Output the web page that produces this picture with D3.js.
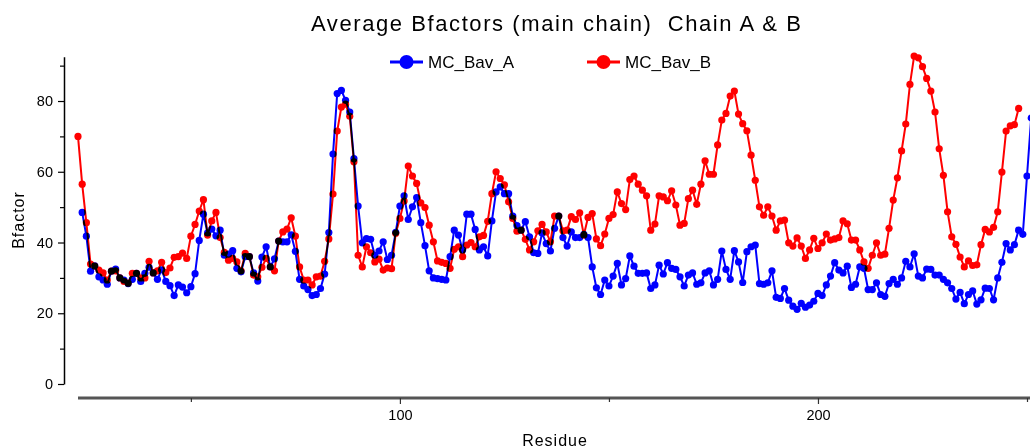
<!DOCTYPE html>
<html>
<head>
<meta charset="utf-8">
<script src="https://cdn.jsdelivr.net/npm/d3@7"></script>
<style>
  html, body { margin: 0; padding: 0; background: #fff; }
  svg { display: block; font-family: "Liberation Sans", Arial, sans-serif; }
</style>
</head>
<body>
<svg id="chart" width="1030" height="448"></svg>
<script>
// Residue numbering of each chain
const firstResA = 24;
const firstResB = 23;

// Main chain average B-factors, chain A (residues 24..251)
const bavA = [
  48.5, 41.8, 31.9, 33.4, 30.3, 29.4, 28.2, 31.9, 32.5, 30.0,
  29.4, 28.4, 29.6, 31.3, 29.0, 31.3, 33.0, 31.4, 29.6, 32.3,
  29.0, 27.8, 25.0, 28.0, 27.4, 25.8, 27.5, 31.2, 40.6, 48.0,
  42.7, 43.8, 41.9, 43.5, 36.4, 36.7, 37.7, 32.7, 31.7, 36.0,
  36.0, 31.4, 29.1, 35.9, 38.8, 33.1, 35.4, 40.4, 40.2, 40.2,
  42.2, 37.5, 29.6, 27.7, 26.7, 25.0, 25.3, 27.0, 31.1, 42.8,
  65.0, 82.1, 83.0, 80.2, 76.9, 63.7, 50.3, 39.9, 41.1, 40.9,
  36.4, 37.6, 40.2, 35.2, 36.4, 42.9, 50.3, 53.2, 46.5, 50.1,
  52.7, 45.6, 39.1, 32.0, 30.0, 29.8, 29.6, 29.4, 36.0, 43.5,
  42.1, 37.9, 48.0, 48.0, 43.7, 37.9, 38.8, 36.2, 46.1, 54.3,
  55.7, 53.8, 53.8, 47.5, 44.8, 43.5, 45.9, 41.6, 37.1, 36.9,
  42.7, 39.7, 37.6, 44.0, 47.5, 41.4, 39.0, 43.0, 41.4, 41.4,
  42.3, 41.4, 33.1, 27.2, 25.3, 29.4, 27.7, 30.5, 34.1, 28.0,
  29.8, 36.2, 33.3, 31.3, 31.3, 31.4, 27.0, 28.0, 33.6, 31.1,
  34.3, 32.7, 32.4, 30.3, 27.7, 30.8, 31.4, 28.2, 28.6, 31.4,
  32.0, 28.0, 29.6, 37.6, 32.4, 29.6, 37.7, 34.5, 28.7, 37.4,
  38.8, 39.3, 28.4, 28.2, 28.6, 32.0, 24.5, 24.2, 27.0, 23.7,
  22.0, 21.1, 22.8, 21.7, 22.3, 23.4, 25.6, 25.0, 28.0, 30.5,
  34.3, 32.2, 31.4, 33.3, 27.3, 28.2, 33.1, 32.7, 26.7, 26.7,
  28.6, 25.3, 24.8, 28.4, 29.6, 28.2, 30.0, 34.7, 33.1, 36.8,
  30.5, 30.0, 32.5, 32.4, 30.8, 30.8, 29.6, 28.6, 27.0, 24.0,
  25.9, 22.7, 25.3, 26.3, 22.6, 23.8, 27.1, 27.0, 23.8, 30.0,
  34.4, 39.7, 37.9, 39.4, 43.5, 42.3, 58.8, 75.2
];

// Main chain average B-factors, chain B (residues 23..248)
const bavB = [
  70.0, 56.5, 45.6, 33.9, 33.3, 32.2, 31.4, 29.4, 31.9, 32.0,
  30.0, 29.0, 28.5, 31.3, 31.3, 30.0, 30.0, 34.7, 31.4, 32.0,
  34.4, 31.5, 32.8, 35.8, 36.0, 37.0, 35.5, 41.8, 45.1, 48.9,
  52.1, 42.1, 46.1, 48.5, 41.4, 37.2, 35.0, 35.5, 34.5, 32.0,
  36.9, 36.0, 30.8, 30.3, 33.0, 35.5, 33.1, 32.0, 40.4, 43.0,
  43.8, 47.0, 41.8, 33.1, 29.4, 29.4, 28.0, 30.3, 30.5, 34.7,
  41.0, 53.7, 71.5, 78.3, 79.1, 75.7, 62.8, 36.4, 33.1, 38.8,
  37.1, 34.5, 35.3, 32.2, 32.8, 32.6, 42.6, 46.8, 51.7, 61.6,
  58.8, 56.7, 51.2, 49.9, 44.9, 40.2, 34.8, 34.4, 34.1, 32.7,
  38.1, 38.8, 36.0, 39.3, 40.0, 38.8, 41.6, 42.0, 46.0, 53.8,
  60.0, 58.1, 56.3, 51.5, 46.8, 43.2, 43.5, 40.9, 37.9, 40.2,
  43.3, 45.1, 43.0, 40.2, 47.5, 47.5, 43.3, 43.5, 47.3, 46.5,
  48.4, 42.1, 47.1, 48.2, 41.0, 39.1, 42.4, 46.8, 47.9, 54.3,
  51.0, 49.3, 57.8, 58.8, 56.5, 54.8, 53.2, 43.5, 45.2, 53.2,
  52.9, 51.8, 54.6, 50.6, 44.9, 45.4, 52.4, 54.8, 50.8, 56.5,
  63.1, 59.3, 59.3, 67.6, 74.6, 76.5, 81.4, 82.8, 76.3, 73.6,
  71.6, 64.7, 57.6, 50.1, 47.7, 50.1, 47.5, 43.5, 46.1, 46.3,
  39.9, 39.0, 41.3, 39.0, 35.5, 37.9, 41.2, 38.3, 39.9, 42.4,
  40.7, 41.0, 41.4, 46.1, 45.3, 40.7, 40.7, 37.9, 34.5, 32.7,
  36.4, 39.9, 36.4, 36.7, 44.0, 52.0, 58.3, 65.9, 73.5, 84.7,
  92.7, 92.2, 89.7, 86.4, 82.8, 76.9, 66.5, 59.0, 48.7, 41.6,
  39.5, 35.9, 33.1, 34.8, 33.5, 33.7, 39.4, 43.7, 43.0, 44.3,
  48.7, 59.9, 71.5, 73.0, 73.3, 77.9
];

const seriesNames = ["MC_Bav_A", "MC_Bav_B"];
const yMajorTicks = [0, 20, 40, 60, 80];
const yMinorTicks = [10, 30, 50, 70, 90];
const xMajorTicks = [100, 200];
const xMinorTicks = [50, 150, 250];

const width = 1030;
const height = 448;
const svg = d3.select("#chart");

const series = [
  { name: seriesNames[0], color: "#0000ff", data: bavA.map((v, i) => ({ res: firstResA + i, val: v })) },
  { name: seriesNames[1], color: "#ff0000", data: bavB.map((v, i) => ({ res: firstResB + i, val: v })) },
];

// Scales
const xScale = d3.scaleLinear().domain([23, 250]).range([78, 1027]);
const yScale = d3.scaleLinear().domain([0, 92.5]).range([384, 56.8]);

// Title (keep the double space)
svg
  .append("text")
  .attr("x", 556)
  .attr("y", 31)
  .attr("xml:space", "preserve")
  .attr("text-anchor", "middle")
  .attr("textLength", 490)
  .attr("lengthAdjust", "spacing")
  .style("white-space", "pre")
  .style("font-size", "22px")
  .style("fill", "#000")
  .text("Average Bfactors (main chain)  Chain A & B");

// Y axis (major + minor ticks)
const yAxisG = svg.append("g").attr("transform", "translate(64,0)");
yAxisG
  .append("g")
  .call(d3.axisLeft(yScale).tickValues(yMajorTicks).tickSize(6).tickSizeOuter(0).tickPadding(5))
  .call((g) => g.selectAll("text").style("font-size", "14.5px").style("fill", "#000"))
  .call((g) => g.select(".domain").attr("stroke", "#000").attr("stroke-width", 1.5));
yAxisG
  .append("g")
  .call(d3.axisLeft(yScale).tickValues(yMinorTicks).tickSize(4).tickFormat(""))
  .call((g) => g.select(".domain").remove());
yAxisG.selectAll("line").attr("stroke", "#000").attr("stroke-width", 1.2);

// Y label
svg
  .append("text")
  .attr("transform", "rotate(-90)")
  .attr("x", -220)
  .attr("y", 24)
  .attr("text-anchor", "middle")
  .style("font-size", "16px")
  .style("letter-spacing", "1px")
  .text("Bfactor");

// X axis: thick grey baseline, ticks below
const xAxisY = 398;
svg
  .append("line")
  .attr("x1", xScale(23))
  .attr("x2", width)
  .attr("y1", xAxisY)
  .attr("y2", xAxisY)
  .attr("stroke", "#555")
  .attr("stroke-width", 3);

const xAxisG = svg.append("g").attr("transform", `translate(0,${xAxisY})`);
xAxisG
  .append("g")
  .call(d3.axisBottom(xScale).tickValues(xMajorTicks).tickSize(6).tickPadding(6))
  .call((g) => g.selectAll("text").style("font-size", "14.5px").style("fill", "#000"))
  .call((g) => g.select(".domain").remove());
xAxisG
  .append("g")
  .call(d3.axisBottom(xScale).tickValues(xMinorTicks).tickSize(4).tickFormat(""))
  .call((g) => g.select(".domain").remove());
xAxisG.selectAll("line").attr("stroke", "#333").attr("stroke-width", 1.2);

// X label
svg
  .append("text")
  .attr("x", 555)
  .attr("y", 446)
  .attr("text-anchor", "middle")
  .style("font-size", "16px")
  .style("letter-spacing", "1px")
  .text("Residue");

// Lines + markers; multiply blend so red over blue turns black like the original
const line = d3
  .line()
  .x((d) => xScale(d.res))
  .y((d) => yScale(d.val));

series.forEach((s) => {
  const g = svg.append("g").style("mix-blend-mode", "multiply");
  g.append("path")
    .datum(s.data)
    .attr("fill", "none")
    .attr("stroke", s.color)
    .attr("stroke-width", 2)
    .attr("d", line);
  g.selectAll("circle")
    .data(s.data)
    .enter()
    .append("circle")
    .attr("cx", (d) => xScale(d.res))
    .attr("cy", (d) => yScale(d.val))
    .attr("r", 3.6)
    .attr("fill", s.color);
});

// Legend
const legendX = [390, 587];
series.forEach((s, i) => {
  const g = svg.append("g").attr("transform", `translate(${legendX[i]},62)`);
  g.append("line")
    .attr("x1", 0)
    .attr("x2", 33)
    .attr("stroke", s.color)
    .attr("stroke-width", 3);
  g.append("circle").attr("cx", 16.5).attr("r", 7).attr("fill", s.color);
  g.append("text")
    .attr("x", 38)
    .attr("y", 6)
    .style("font-size", "17px")
    .text(s.name);
});
</script>
</body>
</html>
